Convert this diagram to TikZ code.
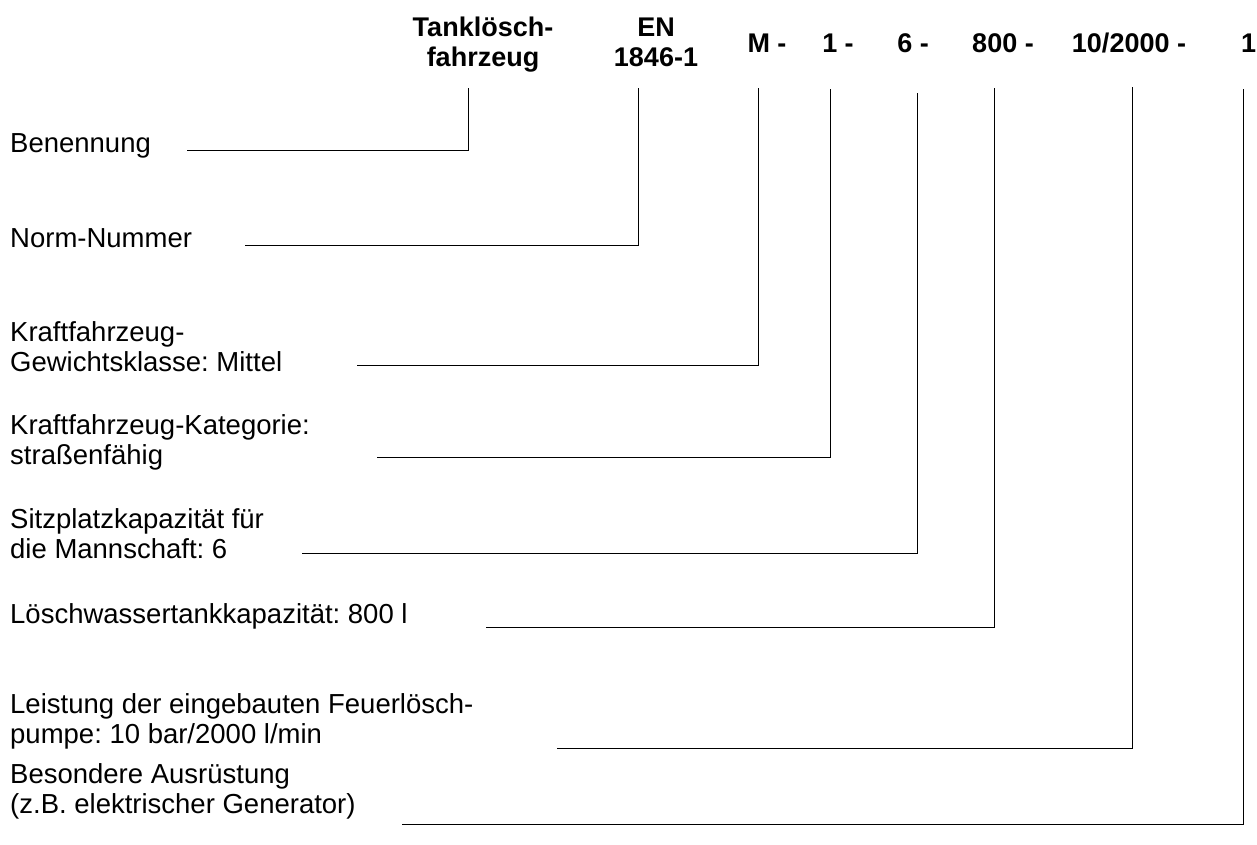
\documentclass[tikz,border=0pt]{standalone}
\usepackage{fontspec}
\setmainfont{Liberation Sans}
\frenchspacing
\usetikzlibrary{positioning}
\tikzset{x=1pt, y=-1pt,
  head/.style={font=\fontsize{27}{30}\selectfont\bfseries, align=center, inner sep=0pt, anchor=base},
  desc/.style={font=\fontsize{27.5}{30}\selectfont, align=left, inner sep=0pt, anchor=base west},
  lead/.style={draw=black, line width=1pt},
}
\begin{document}
\begin{tikzpicture}
            \useasboundingbox (0,0) rectangle (1257,845);
            % code parts
            \node[head] (name) at (483,67) {Tanklösch-\\fahrzeug};
            \node[head] (norm) at (656,67) {EN\\1846-1};
            \node[head] (weight) at (767,53) {M -};
            \node[head] (cat) at (838,53) {1 -};
            \node[head] (crew) at (913,53) {6 -};
            \node[head] (water) at (1003,53) {800 -};
            \node[head] (pump) at (1129,53) {10/2000 -};
            \node[head, anchor=base west] (extra) at (1241,53) {1};

            % descriptions
            \node[desc] (d-name) at (10,153) {Benennung};
            \node[desc] (d-norm) at (10,247) {Norm-Nummer};
            \node[desc] (d-weight) at (10,371) {Kraftfahrzeug-\\Gewichtsklasse: Mittel};
            \node[desc] (d-cat) at (10,464) {Kraftfahrzeug-Kategorie:\\straßenfähig};
            \node[desc] (d-crew) at (10,558) {Sitzplatzkapazität für\\die Mannschaft: 6};
            \node[desc] (d-water) at (10,623) {Löschwassertankkapazität: 800 l};
            \node[desc] (d-pump) at (10,743) {Leistung der eingebauten Feuerlösch-\\pumpe: 10 bar/2000 l/min};
            \node[desc] (d-extra) at (10,813) {Besondere Ausrüstung\\(z.B. elektrischer Generator)};

            % line ends
            \coordinate (s-name) at (187,151);
            \coordinate (s-norm) at (245,245);
            \coordinate (s-weight) at (357,365);
            \coordinate (s-cat) at (377,457);
            \coordinate (s-crew) at (302,553);
            \coordinate (s-water) at (486,627);
            \coordinate (s-pump) at (557,748);
            \coordinate (s-extra) at (402,824);
            \coordinate (t-name) at (468,88);
            \coordinate (t-norm) at (638,88);
            \coordinate (t-weight) at (758,88);
            \coordinate (t-cat) at (830,89);
            \coordinate (t-crew) at (917,93);
            \coordinate (t-water) at (994,88);
            \coordinate (t-pump) at (1132,87);
            \coordinate (t-extra) at (1243,89);

            \draw[lead] (s-name) -| (t-name)
                  (s-norm) -| (t-norm)
                  (s-weight) -| (t-weight)
                  (s-cat) -| (t-cat)
                  (s-crew) -| (t-crew)
                  (s-water) -| (t-water)
                  (s-pump) -| (t-pump)
                  (s-extra) -| (t-extra);
        \end{tikzpicture}
\end{document}
